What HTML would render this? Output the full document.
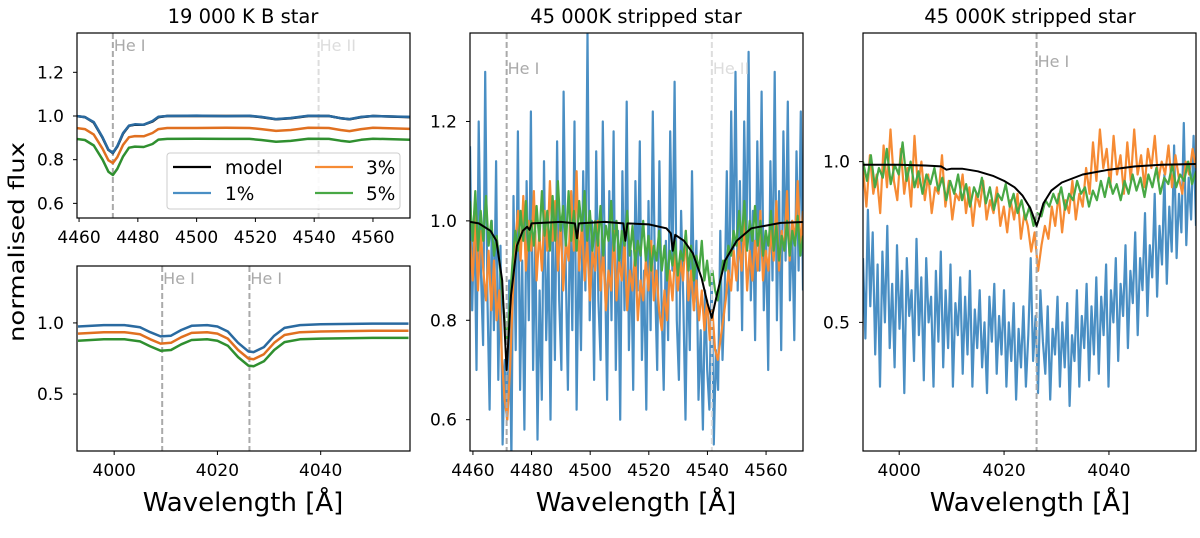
<!DOCTYPE html>
<html><head><meta charset="utf-8"><style>
html,body{margin:0;padding:0;background:#fff}
svg{display:block;font-family:"DejaVu Sans","Liberation Sans",sans-serif}
</style></head><body>
<svg id="fig" width="1200" height="538" viewBox="0 0 1200 538">
<defs>
<clipPath id="cA"><rect x="77" y="33" width="333" height="185"/></clipPath>
<clipPath id="cB"><rect x="77" y="266" width="333" height="185"/></clipPath>
<clipPath id="cC"><rect x="470" y="33" width="333" height="418"/></clipPath>
<clipPath id="cD"><rect x="863" y="33" width="333" height="418"/></clipPath>
</defs>
<text x="243" y="23" font-size="19.5" text-anchor="middle">19 000 K B star</text>
<text x="636" y="23" font-size="19.5" text-anchor="middle">45 000K stripped star</text>
<text x="1030" y="23" font-size="19.5" text-anchor="middle">45 000K stripped star</text>
<text transform="translate(24,242) rotate(-90)" font-size="21" text-anchor="middle" textLength="200" lengthAdjust="spacingAndGlyphs">normalised flux</text>
<text x="243" y="511" font-size="26" text-anchor="middle">Wavelength [Å]</text>
<text x="636" y="511" font-size="26" text-anchor="middle">Wavelength [Å]</text>
<text x="1030" y="511" font-size="26" text-anchor="middle">Wavelength [Å]</text>
<g id="layer"></g>
</svg>
<script>
// ---- Panel A (4460-4573, B star) ----
const aX=[4459,4462,4465,4468,4470,4471.5,4473,4475,4477,4479,4482,4485,4487,4490,4500,4510,4518,4522,4527,4532,4538,4545,4549,4552,4556,4560,4573];
const aModel=[1.0,0.995,0.97,0.90,0.845,0.83,0.86,0.92,0.955,0.96,0.96,0.975,0.995,1.0,1.0,1.0,1.0,0.995,0.985,0.99,1.0,1.0,0.99,0.985,0.995,1.0,0.995];
const aBlue=[1.0,0.995,0.972,0.902,0.846,0.832,0.862,0.922,0.956,0.962,0.96,0.977,0.997,1.0,1.002,0.999,1.001,0.996,0.986,0.991,1.001,1.0,0.99,0.986,0.996,1.0,0.996];
const aOrange=[0.945,0.94,0.915,0.85,0.797,0.785,0.812,0.868,0.903,0.908,0.907,0.922,0.94,0.945,0.945,0.946,0.945,0.94,0.932,0.936,0.946,0.945,0.936,0.931,0.94,0.946,0.941];
const aGreen=[0.895,0.89,0.865,0.8,0.745,0.73,0.758,0.815,0.855,0.86,0.858,0.872,0.892,0.895,0.896,0.895,0.895,0.89,0.882,0.886,0.896,0.895,0.887,0.882,0.891,0.896,0.891];
// ---- Panel B (3993-4057, B star) ----
const bX=[3993,3998,4002,4005,4007,4009,4011,4013,4015,4018,4020,4022,4024,4026,4027,4029,4031,4033,4036,4040,4050,4057];
const bBlue=[0.975,0.985,0.985,0.97,0.935,0.905,0.91,0.95,0.98,0.985,0.975,0.94,0.86,0.80,0.795,0.83,0.91,0.965,0.985,0.99,0.995,0.995];
const bOrange=[0.925,0.935,0.935,0.92,0.885,0.855,0.86,0.9,0.93,0.935,0.925,0.89,0.81,0.75,0.745,0.78,0.86,0.915,0.935,0.94,0.945,0.945];
const bGreen=[0.875,0.885,0.885,0.87,0.835,0.805,0.81,0.85,0.88,0.885,0.875,0.84,0.76,0.70,0.695,0.73,0.81,0.865,0.885,0.89,0.895,0.895];
// ---- Panel C (4460-4573, stripped star) ----
const cModelX=[4459,4462,4466,4468,4470,4471.5,4473,4475,4477,4478.5,4479.3,4480,4490,4494.8,4495.5,4496.2,4505,4511.3,4512,4512.7,4520,4526,4527.5,4528.2,4529,4532,4535,4538,4540,4541.5,4543,4546,4550,4555,4565,4573];
const cModel=[0.998,0.995,0.98,0.96,0.88,0.70,0.85,0.95,0.98,0.988,0.982,0.995,0.998,0.995,0.965,0.995,0.998,0.995,0.96,0.995,0.993,0.985,0.975,0.94,0.972,0.96,0.935,0.885,0.835,0.805,0.845,0.92,0.96,0.985,0.996,0.998];
const cBlue=[1.15,0.82,1.02,0.7,1.2,0.9,0.75,1.3,0.85,0.62,1.0,0.78,1.12,0.68,0.95,0.55,0.72,0.6,0.88,0.52,1.05,0.74,1.18,0.66,0.92,0.58,1.08,0.8,1.22,0.7,0.98,0.56,0.86,0.64,1.12,0.76,0.94,0.6,1.02,0.72,1.16,0.84,0.7,1.26,0.9,0.66,1.04,0.78,1.2,0.62,0.96,0.74,1.1,0.86,1.38,0.8,1.0,0.68,1.14,0.84,0.72,1.2,0.92,0.64,1.06,0.8,1.18,0.7,0.98,0.6,1.1,0.82,1.24,0.74,0.94,0.66,1.08,0.86,1.16,0.72,0.9,0.62,1.04,0.78,1.22,0.88,0.7,1.12,0.84,0.66,0.96,0.76,1.18,0.9,1.28,0.8,0.68,1.02,0.84,0.6,0.92,0.74,1.1,0.82,0.96,0.64,0.78,0.58,0.86,0.7,0.62,0.9,0.55,0.74,0.66,0.98,0.72,0.85,1.1,0.8,1.22,0.92,1.3,0.86,1.08,0.78,1.2,0.94,1.34,0.84,1.02,0.76,1.16,0.9,1.26,0.82,0.98,0.7,1.12,0.88,1.3,0.8,1.06,0.74,1.18,0.92,1.24,0.84,1.0,0.76,1.14,0.9,1.22,0.86];
const cOrange=[0.96,0.88,1.02,0.86,0.98,0.9,0.84,0.94,0.82,0.92,0.8,0.86,0.72,0.64,0.6,0.7,0.84,0.96,1.02,0.92,1.05,0.9,1.0,0.94,1.06,0.88,0.98,0.9,1.02,0.94,1.08,0.96,1.04,0.9,1.0,0.86,0.96,0.92,1.06,0.94,1.1,0.9,1.0,0.88,0.96,0.84,0.94,0.9,1.0,0.86,0.94,0.82,0.9,0.86,0.98,0.84,0.92,0.88,0.96,0.82,0.9,0.86,0.94,0.8,0.88,0.84,0.92,0.86,0.96,0.84,0.9,0.82,0.78,0.86,0.8,0.9,0.84,0.94,0.86,0.92,0.88,0.98,0.84,0.9,0.82,0.88,0.8,0.86,0.78,0.84,0.76,0.82,0.74,0.72,0.76,0.8,0.84,0.9,0.86,0.94,0.88,0.96,0.9,1.0,0.86,0.94,0.88,0.96,0.9,1.02,0.88,0.94,0.9,0.98,0.92,1.04,0.9,0.98,0.94,1.06,0.92,1.0,0.96,1.08,0.94,1.02];
const cGreen=[1.04,0.96,1.06,0.94,1.02,0.96,1.05,0.95,1.0,0.93,0.97,0.92,0.86,0.8,0.76,0.84,0.92,0.98,0.94,1.02,0.96,1.04,0.94,1.0,0.95,1.03,0.96,1.06,0.97,1.02,0.94,1.05,0.96,1.08,0.98,1.03,0.95,1.06,0.96,1.02,0.94,1.04,0.98,1.06,0.96,1.02,0.94,1.0,0.95,1.03,0.93,0.99,0.96,1.04,0.94,1.0,0.92,0.98,0.95,1.02,0.93,0.99,0.91,0.96,0.93,1.0,0.92,0.97,0.9,0.95,0.92,0.98,0.9,0.95,0.88,0.94,0.91,0.96,0.89,0.94,0.92,0.98,0.9,0.95,0.88,0.93,0.9,0.96,0.88,0.92,0.87,0.9,0.86,0.84,0.88,0.92,0.9,0.95,0.93,0.98,0.95,1.02,0.96,1.04,0.94,1.0,0.96,1.03,0.95,1.0,0.93,0.98,0.95,1.02,0.94,0.99,0.92,0.97,0.94,1.0,0.93,0.98,0.95,1.01,0.93,0.97];
// ---- Panel D (3993-4057, stripped star) ----
const dModelX=[3993,4000,4005,4008,4009,4010,4012,4015,4018,4020,4022,4023.5,4025,4025.8,4026.2,4026.6,4027.5,4029,4031,4035,4040,4045,4050,4057];
const dModel=[0.99,0.99,0.988,0.985,0.975,0.978,0.978,0.97,0.955,0.94,0.92,0.895,0.855,0.82,0.80,0.82,0.87,0.91,0.935,0.96,0.975,0.985,0.99,0.993];
const dBlue=[0.7,0.45,0.85,0.55,0.78,0.4,0.68,0.3,0.72,0.5,0.8,0.42,0.62,0.36,0.74,0.48,0.66,0.28,0.7,0.52,0.6,0.38,0.76,0.46,0.64,0.32,0.7,0.5,0.58,0.3,0.66,0.44,0.72,0.36,0.6,0.42,0.68,0.3,0.56,0.46,0.64,0.34,0.58,0.4,0.66,0.3,0.54,0.42,0.6,0.36,0.5,0.28,0.58,0.44,0.62,0.34,0.52,0.4,0.6,0.3,0.5,0.38,0.56,0.26,0.48,0.36,0.55,0.3,0.46,0.7,0.38,0.52,0.28,0.6,0.44,0.34,0.55,0.26,0.48,0.4,0.58,0.3,0.5,0.36,0.56,0.24,0.46,0.38,0.6,0.3,0.52,0.42,0.62,0.32,0.55,0.4,0.64,0.34,0.58,0.46,0.68,0.3,0.6,0.5,0.7,0.38,0.62,0.52,0.74,0.42,0.66,0.56,0.78,0.46,0.7,0.6,0.84,0.52,0.74,0.64,0.9,0.58,0.8,0.68,0.96,0.62,0.86,0.72,1.05,0.7,0.9,0.78,1.12,0.74,0.95,0.82,1.08,0.8];
const dOrange=[0.98,0.86,1.02,0.9,0.96,0.84,1.05,0.92,1.1,0.94,0.88,1.04,0.9,0.98,0.86,1.08,0.92,1.0,0.88,0.96,0.84,0.92,0.9,1.02,0.86,0.94,0.82,0.9,0.88,0.96,0.84,0.92,0.8,0.9,0.86,0.94,0.82,0.88,0.84,0.92,0.8,0.86,0.78,0.88,0.82,0.9,0.76,0.84,0.8,0.72,0.78,0.66,0.74,0.8,0.76,0.86,0.8,0.9,0.78,0.88,0.84,0.94,0.82,0.9,0.86,0.98,0.9,1.06,0.94,1.1,0.98,1.04,0.92,1.08,0.96,1.02,0.9,1.06,0.94,1.1,0.96,1.02,0.92,1.04,0.98,1.08,0.94,1.0,0.96,1.05,0.92,1.02,0.95,0.9,1.0,0.96,1.04,0.98];
const dGreen=[1.0,0.94,1.02,0.92,0.98,0.95,1.04,0.93,0.99,0.96,1.06,0.94,1.0,0.92,0.97,0.9,0.96,0.93,0.98,0.91,0.95,0.88,0.94,0.9,0.96,0.88,0.93,0.86,0.92,0.89,0.95,0.87,0.92,0.85,0.9,0.88,0.93,0.86,0.9,0.84,0.88,0.82,0.86,0.8,0.84,0.83,0.88,0.86,0.9,0.87,0.92,0.85,0.9,0.88,0.94,0.9,0.92,0.86,0.91,0.88,0.94,0.89,0.95,0.9,0.93,0.88,0.94,0.9,0.96,0.91,0.95,0.89,0.96,0.92,0.98,0.9,0.95,0.93,0.99,0.92,0.96,0.94,1.0,0.93,0.97];
// ticks
const tickA_x=[4460,4480,4500,4520,4540,4560];
const tickA_y=[0.6,0.8,1.0,1.2];
const tickB_x=[4000,4020,4040];
const tickB_y=[0.5,1.0];
const tickC_y=[0.6,0.8,1.0,1.2];
const tickD_y=[0.5,1.0];

const NS='http://www.w3.org/2000/svg';
const layer=document.getElementById('layer');
function mk(tag,attrs,parent){const e=document.createElementNS(NS,tag);for(const k in attrs)e.setAttribute(k,attrs[k]);(parent||layer).appendChild(e);return e;}
function panel(id,x0,y0,w,h,xmin,xmax,ymin,ymax){
  return {id,x0,y0,w,h,sx:v=>x0+(v-xmin)/(xmax-xmin)*w,sy:v=>y0+h-(v-ymin)/(ymax-ymin)*h,xmin,xmax};
}
const A=panel('A',77,33,333,185,4459.3,4572.6,0.533,1.38);
const B=panel('B',77,266,333,185,3992.8,4057.3,0.10,1.40);
const C=panel('C',470,33,333,418,4459.0,4572.6,0.537,1.378);
const D=panel('D',863,33,333,418,3993.1,4056.6,0.10,1.40);
const COL={blue:'#4a8fc4',orange:'#f68b34',green:'#48a845'};

function series(P,xs,ys,color,name,wid){
  const g=document.getElementById('plot'+P.id);
  const pts=ys.map((v,i)=>P.sx(xs[i]).toFixed(1)+','+P.sy(v).toFixed(1)).join(' ');
  const e=mk('polyline',{points:pts,fill:'none',stroke:color,'stroke-width':wid||2,'stroke-linejoin':'round'},g);
  
  
}
function even(P,n){const xs=[];for(let i=0;i<n;i++)xs.push(P.xmin+(P.xmax-P.xmin)*i/(n-1));return xs;}
function vline(P,wl,color,label,lab){
  const g=document.getElementById('plot'+P.id);
  const e=mk('line',{x1:P.sx(wl),x2:P.sx(wl),y1:P.y0,y2:P.y0+P.h,stroke:color,'stroke-width':2,'stroke-dasharray':'6,3'},g);
  
  
  const t=mk('text',{x:P.sx(wl)+1,y:P.y0+(P.h>300?(P.id==='C'?41:34):18),'font-size':16,fill:color});
  t.textContent=lab;
  
  
}
function axes(P,xt,yt){
  const g=mk('g',{'clip-path':'url(#c'+P.id+')'});
  g.id='plot'+P.id;
  
  
  xt.forEach(v=>{const x=P.sx(v);
    const l=mk('line',{x1:x,x2:x,y1:P.y0+P.h,y2:P.y0+P.h+4,stroke:'#000','stroke-width':1});
    
    
    const t=mk('text',{x:x,y:P.y0+P.h+25,'font-size':17,'text-anchor':'middle'});t.textContent=v;
    
    });
  yt.forEach(v=>{const y=P.sy(v);
    const l=mk('line',{x1:P.x0-4,x2:P.x0,y1:y,y2:y,stroke:'#000','stroke-width':1});
    
    
    const t=mk('text',{x:P.x0-13,y:y+6,'font-size':17,'text-anchor':'end'});t.textContent=v.toFixed(1);
    
    });
}
function frame(P){const r=mk('rect',{x:P.x0,y:P.y0,width:P.w,height:P.h,fill:'none',stroke:'#000','stroke-width':1.2});
  
  }

axes(A,tickA_x,tickA_y);axes(B,tickB_x,tickB_y);axes(C,tickA_x,tickC_y);axes(D,tickB_x,tickD_y);

// Panel A
vline(A,4471.5,'#aaaaaa','he-i-4471','He I');vline(A,4541.5,'#dddddd','he-ii-4541','He II');
series(A,aX,aModel,'#000','model-a',2.5);
series(A,aX,aGreen,'#2f8f2f','green-5pct-a',2.5);series(A,aX,aOrange,'#e07020','orange-3pct-a',2.5);series(A,aX,aBlue,'#2a6aa0','blue-1pct-a',2.5);
// Panel B
vline(B,4009.3,'#aaaaaa','he-i-4009','He I');vline(B,4026.2,'#aaaaaa','he-i-4026','He I');
series(B,bX,bGreen,'#2f8f2f','green-5pct-b',2.5);series(B,bX,bOrange,'#e07020','orange-3pct-b',2.5);series(B,bX,bBlue,'#2a6aa0','blue-1pct-b',2.5);
// Panel C
series(C,even(C,cBlue.length),cBlue,COL.blue,'blue-1pct-c',2.2);
series(C,even(C,cOrange.length),cOrange,COL.orange,'orange-3pct-c',2.2);
series(C,even(C,cGreen.length),cGreen,COL.green,'green-5pct-c',2.2);
vline(C,4471.5,'#aaaaaa','he-i-4471-c','He I');vline(C,4541.5,'#dddddd','he-ii-4541-c','He II');
series(C,cModelX,cModel,'#000','model-c',2);
// Panel D
series(D,even(D,dBlue.length),dBlue,COL.blue,'blue-1pct-d',2.2);
series(D,even(D,dOrange.length),dOrange,COL.orange,'orange-3pct-d',2.2);
series(D,even(D,dGreen.length),dGreen,COL.green,'green-5pct-d',2.2);
vline(D,4026.2,'#aaaaaa','he-i-4026-d','He I');
series(D,dModelX,dModel,'#000','model-d',2);

[A,B,C,D].forEach(frame);

// Legend
const lg=mk('g',{});


const lb=mk('rect',{x:167,y:153,width:233,height:56,rx:3,fill:'#fff','fill-opacity':0.85,stroke:'#ccc'},lg);


const legItems=[['model','#000',173,167],['1%','#4a8fc4',173,193],['3%','#f68b34',315,167],['5%','#48a845',315,193]];
legItems.forEach(it=>{
  const l=mk('line',{x1:it[2],x2:it[2]+38,y1:it[3],y2:it[3],stroke:it[1],'stroke-width':2.2},lg);
  
  
  const t=mk('text',{x:it[0]==='model'?it[2]+52:(it[2]===173?it[2]+52:it[2]+51),y:it[3]+7,'font-size':18.5},lg);
  t.textContent=it[0];
  
  
});
</script>
</body></html>
